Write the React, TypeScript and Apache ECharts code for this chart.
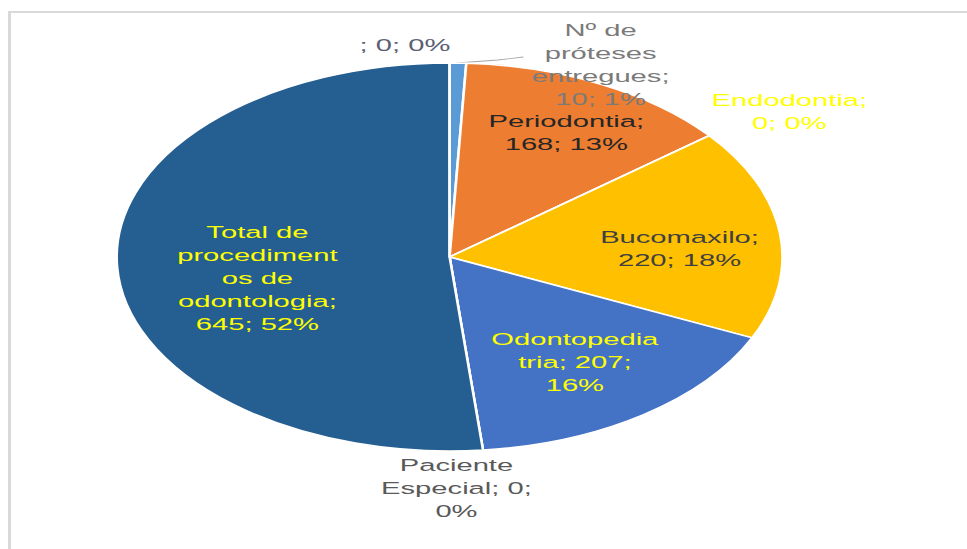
import React, { useEffect, useRef } from "react";
import * as echarts from "echarts";

// ---- data ----
const categories = [
  "Nº de próteses entregues",
  "Periodontia",
  "Endodontia",
  "Bucomaxilo",
  "Odontopediatria",
  "Paciente Especial",
  "Total de procedimentos de odontologia",
  "",
];
const values = [10, 168, 0, 220, 207, 0, 645, 0];
const percents = ["1%", "13%", "0%", "18%", "16%", "0%", "52%", "0%"];
// label texts as wrapped in the reference
const labelTexts = [
  "Nº de\npróteses\nentregues;\n10; 1%",
  "Periodontia;\n168; 13%",
  "Endodontia;\n0; 0%",
  "Bucomaxilo;\n220; 18%",
  "Odontopedia\ntria; 207;\n16%",
  "Paciente\nEspecial; 0;\n0%",
  "Total de\nprocediment\nos de\nodontologia;\n645; 52%",
  "; 0; 0%",
];
const sliceColors = ["#5B9BD5", "#ED7D31", "#A5A5A5", "#FFC000", "#4472C4", "#70AD47", "#255E91", "#9E480E"];
const labelColors = ["#7A7A7A", "#262626", "#FFFF00", "#404040", "#FFFF00", "#595959", "#FFFF00", "#5A6070"];

// ---- layout (unscaled chart coordinates) ----
const SX = 1.716;
const W = 967;
const H = 549;
const labelPos: [number, number][] = [
  [350, 64],
  [330, 132],
  [460, 111],
  [396, 248],
  [335, 362],
  [266, 488],
  [150, 278],
  [236, 45],
];

export default function App() {
  const ref = useRef<HTMLDivElement>(null);
  useEffect(() => {
    if (!ref.current) return;
    const chart = echarts.init(ref.current, null, { renderer: "svg" });
    chart.setOption({
      animation: false,
      series: [
        {
          type: "pie",
          center: [262, 257],
          radius: 194,
          startAngle: 90,
          clockwise: true,
          avoidLabelOverlap: false,
          itemStyle: { borderColor: "#ffffff", borderWidth: 1.5 },
          label: {
            show: true,
            position: "outside",
            fontFamily: "Liberation Sans",
            fontSize: 17,
            lineHeight: 23,
            align: "center",
          },
          labelLine: { show: false },
          labelLayout: (params: any) => {
            const p = labelPos[params.dataIndex];
            const out: any = { x: p[0], y: p[1], align: "center", verticalAlign: "middle" };
            if (params.dataIndex === 0) {
              out.labelLinePoints = [
                [266, 63],
                [290, 60],
                [305, 57],
              ];
            }
            return out;
          },
          data: categories.map((name, i) => ({
            name,
            value: values[i],
            itemStyle: { color: sliceColors[i] },
            label: {
              formatter: labelTexts[i],
              color: labelColors[i],
            },
            labelLine:
              i === 0
                ? { show: true, length: 10, length2: 10, lineStyle: { color: "#A6A6A6", width: 0.8 } }
                : { show: false },
          })),
        },
      ],
    });
    return () => chart.dispose();
  }, []);

  return (
    <div style={{ position: "fixed", left: 0, top: 0, width: W, height: H, overflow: "hidden", background: "#ffffff" }}>
      <div
        style={{
          position: "absolute",
          left: 8,
          top: 11,
          right: 0,
          bottom: 0,
          borderTop: "2px solid #D9D9D9",
          borderLeft: "3px solid #D9D9D9",
        }}
      />
      <div
        ref={ref}
        style={{
          position: "absolute",
          left: 0,
          top: 0,
          width: W / SX,
          height: H,
          transform: `scaleX(${SX})`,
          transformOrigin: "0 0",
        }}
      />
    </div>
  );
}
